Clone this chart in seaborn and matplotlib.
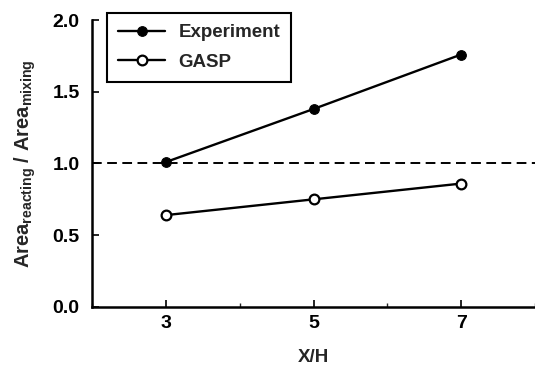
import matplotlib
matplotlib.use("Agg")
import matplotlib.pyplot as plt
import seaborn as sns
import pandas as pd
from matplotlib.ticker import MultipleLocator

x_h = [3, 5, 7]
experiment = [1.01, 1.38, 1.76]
gasp = [0.64, 0.75, 0.86]
ref_level = 1.0
xticks = [3, 5, 7]
yticks = [0.0, 0.5, 1.0, 1.5, 2.0]

sns.set_theme(style="ticks")
plt.rcParams['font.family'] = ['Liberation Sans', 'DejaVu Sans']
plt.rcParams['font.weight'] = 'bold'
plt.rcParams['mathtext.fontset'] = 'custom'
plt.rcParams['mathtext.rm'] = 'Liberation Sans:bold'
plt.rcParams['mathtext.it'] = 'Liberation Sans:bold'
plt.rcParams['mathtext.bf'] = 'Liberation Sans:bold'

df_exp = pd.DataFrame({"X/H": x_h, "val": experiment})
df_gasp = pd.DataFrame({"X/H": x_h, "val": gasp})

fig = plt.figure(figsize=(5.35, 3.72), dpi=100)
ax = fig.add_axes([0.172, 0.175, 0.828, 0.771])

ax.axhline(ref_level, color='black', lw=1.4, ls=(0, (5, 2.8)), zorder=1)
sns.lineplot(data=df_exp, x="X/H", y="val", ax=ax, color='black', lw=1.7,
             marker='o', markersize=7, markerfacecolor='black',
             markeredgecolor='black', label='Experiment', zorder=3)
sns.lineplot(data=df_gasp, x="X/H", y="val", ax=ax, color='black', lw=1.7,
             marker='o', markersize=7, markerfacecolor='white',
             markeredgecolor='black', markeredgewidth=1.6, label='GASP', zorder=3)

ax.set_xlim(2, 8)
ax.set_ylim(0, 2.0)
ax.set_xticks(xticks)
ax.xaxis.set_minor_locator(MultipleLocator(1))
ax.set_yticks(yticks)
ax.set_yticklabels([f"{v:.1f}" for v in yticks])
ax.tick_params(axis='both', which='major', direction='in', length=5, width=1.2,
               labelsize=14, colors='black')
ax.tick_params(axis='x', which='minor', direction='in', length=3, width=1.0)
ax.tick_params(axis='x', pad=6)
ax.tick_params(axis='y', pad=9)
for lab in ax.get_xticklabels() + ax.get_yticklabels():
    lab.set_fontweight('bold')

for s in ['top', 'right']:
    ax.spines[s].set_visible(False)
for s in ['left', 'bottom']:
    ax.spines[s].set_linewidth(1.8)
    ax.spines[s].set_color('black')

ax.set_xlabel("X/H", fontsize=13.5, fontweight='bold', labelpad=12)
ax.set_ylabel(r"Area$_{\mathrm{reacting}}$ / Area$_{\mathrm{mixing}}$",
              fontsize=14.5, fontweight='bold', labelpad=10)

leg = ax.legend(loc='upper left', bbox_to_anchor=(0.034, 1.025), frameon=True,
                fancybox=False, shadow=False, fontsize=13.5, handlelength=2.5,
                borderpad=0.6, labelspacing=0.65, handletextpad=0.7,
                borderaxespad=0)
leg.get_frame().set_edgecolor('black')
leg.get_frame().set_linewidth(1.5)
leg.get_frame().set_alpha(1)
leg._legend_box.align = "left"
for t in leg.get_texts():
    t.set_fontweight('bold')

fig.savefig("out.png", dpi=100)
